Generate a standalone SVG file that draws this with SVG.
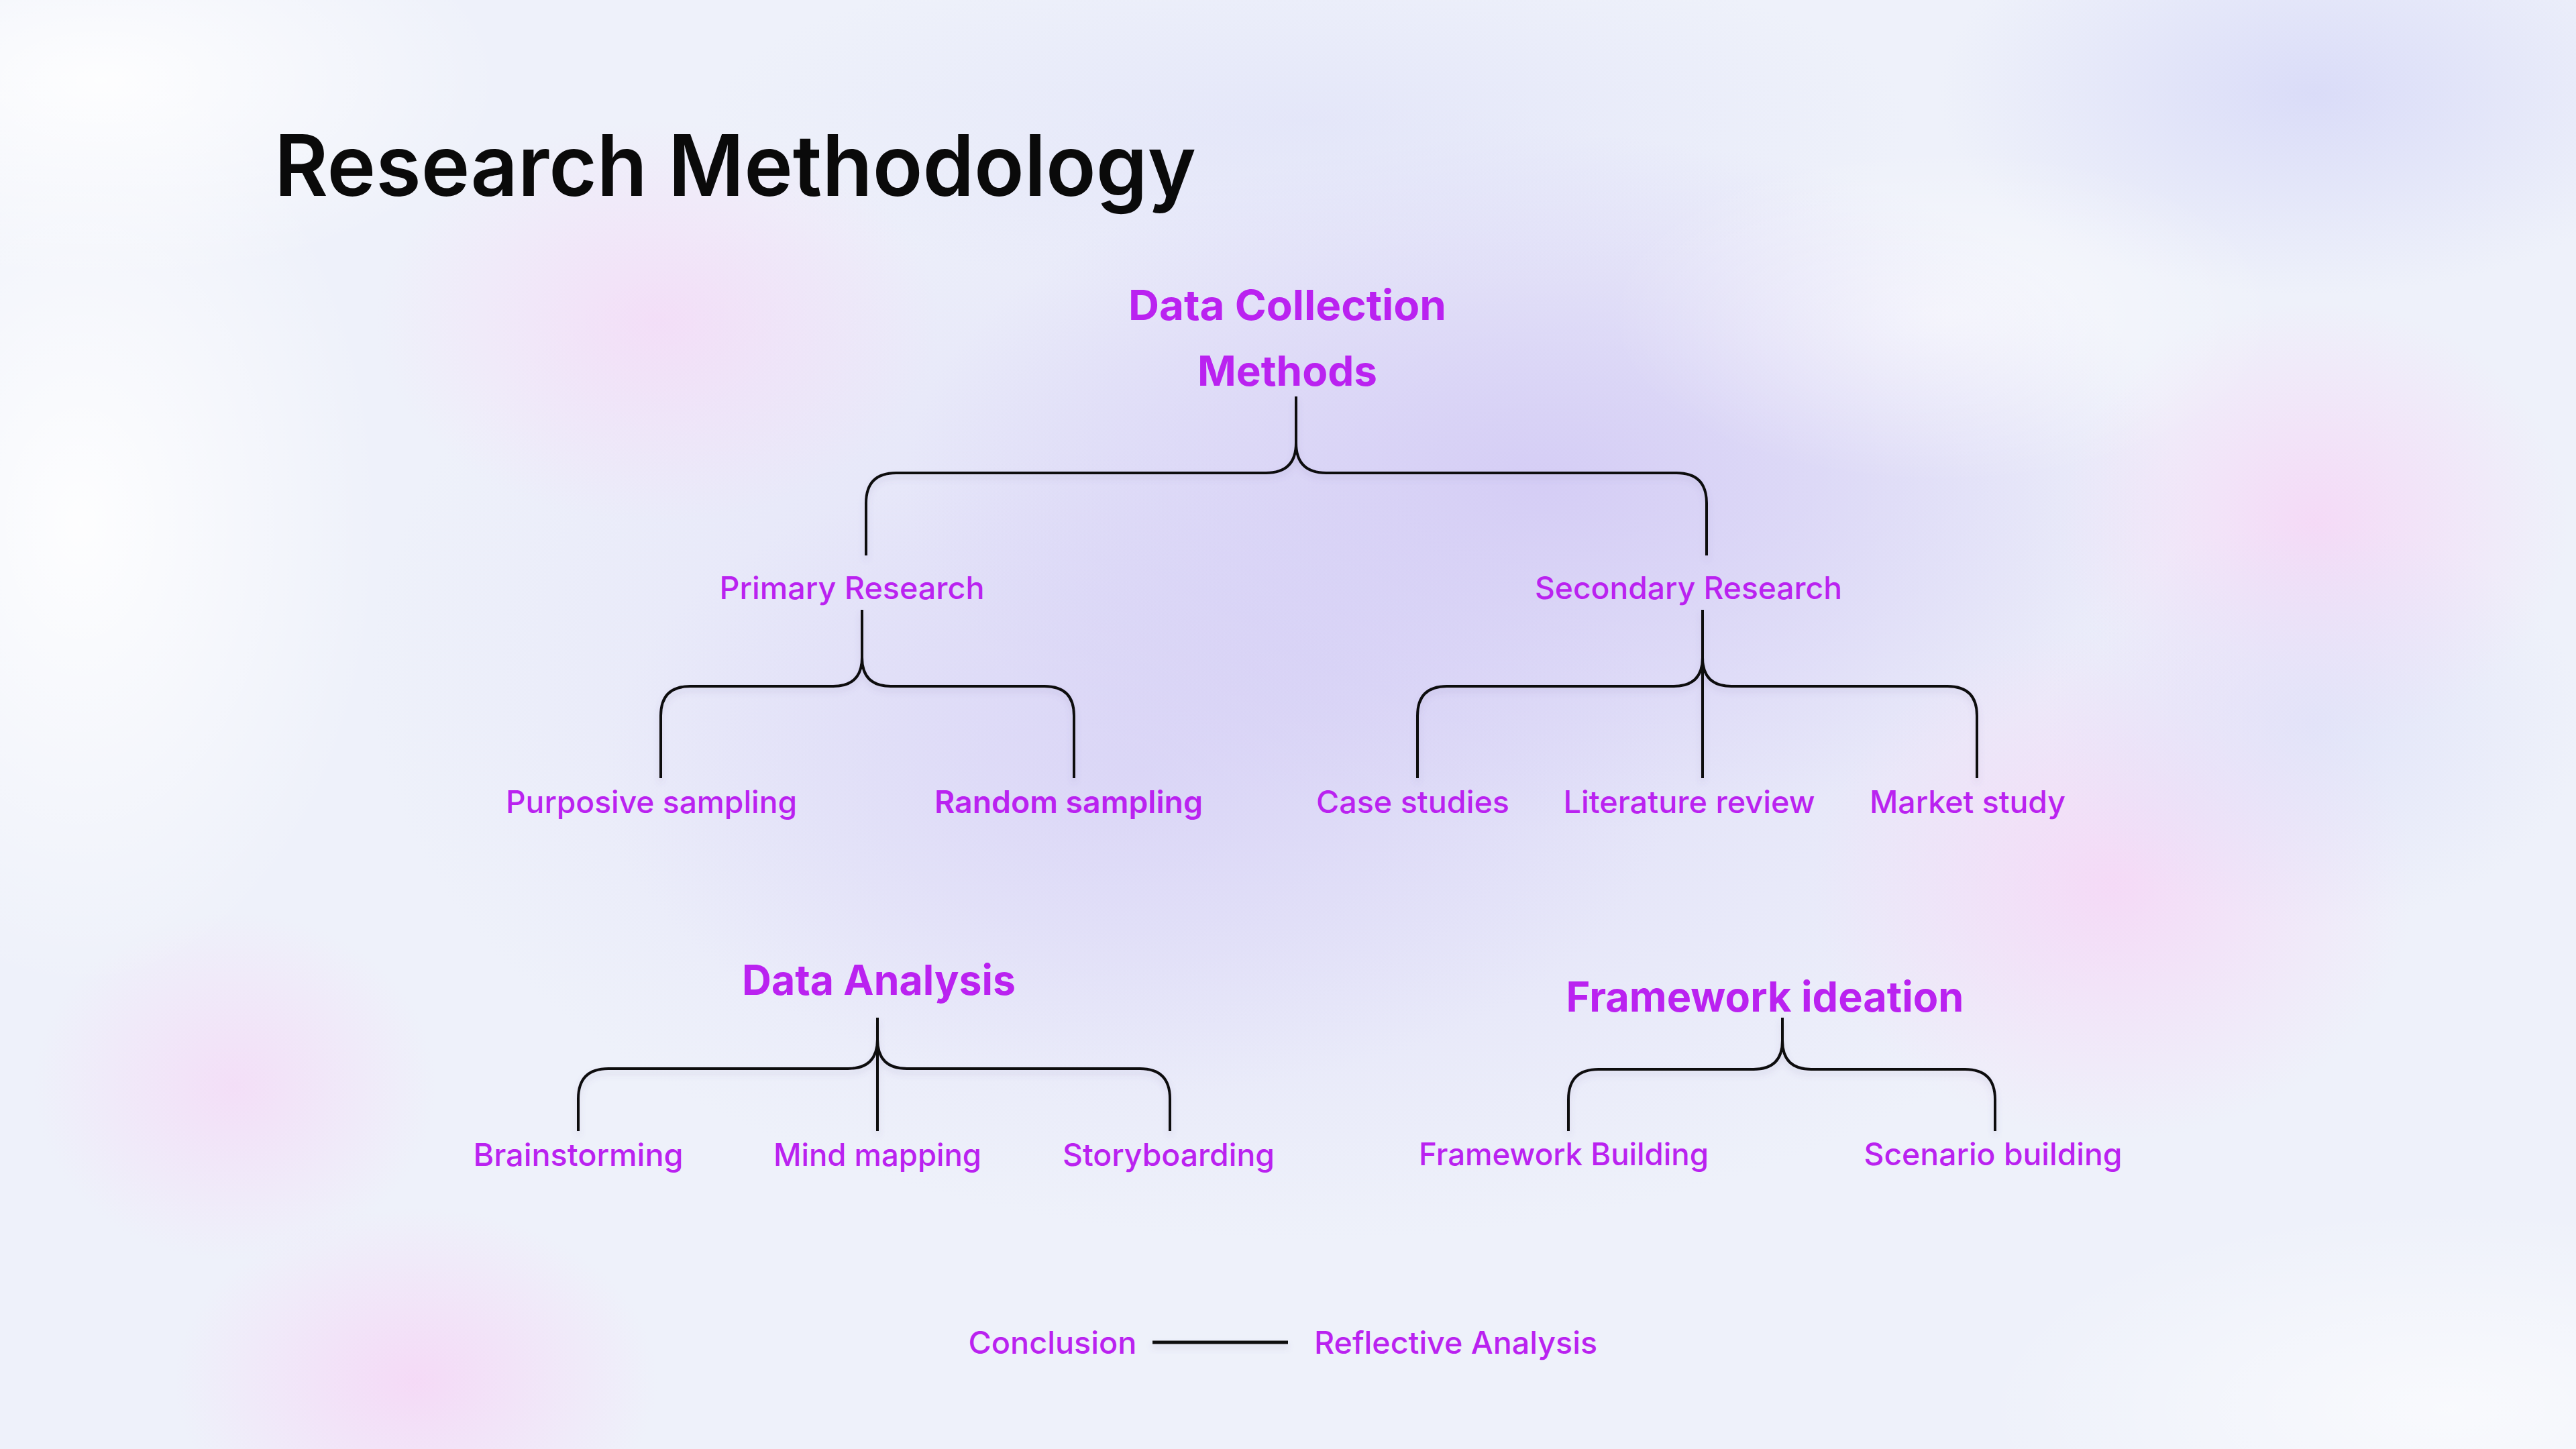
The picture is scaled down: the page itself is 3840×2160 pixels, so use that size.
<svg xmlns="http://www.w3.org/2000/svg" width="3840" height="2160" viewBox="0 0 3840 2160">
<defs>
<radialGradient id="gLav"><stop offset="0" stop-color="#D4CCF5" stop-opacity="0.95"/><stop offset="1" stop-color="#D4CCF5" stop-opacity="0"/></radialGradient>
<radialGradient id="gLav2"><stop offset="0" stop-color="#DCD9F7" stop-opacity="0.9"/><stop offset="1" stop-color="#DCD9F7" stop-opacity="0"/></radialGradient>
<radialGradient id="gPink"><stop offset="0" stop-color="#F6D6F6" stop-opacity="0.85"/><stop offset="1" stop-color="#F6D6F6" stop-opacity="0"/></radialGradient>
<radialGradient id="gBlue"><stop offset="0" stop-color="#D9DBF8" stop-opacity="0.95"/><stop offset="1" stop-color="#D9DBF8" stop-opacity="0"/></radialGradient>
<radialGradient id="gWhite"><stop offset="0" stop-color="#FFFFFF" stop-opacity="0.9"/><stop offset="1" stop-color="#FFFFFF" stop-opacity="0"/></radialGradient>
<filter id="sh" x="-5%" y="-20%" width="110%" height="160%"><feDropShadow dx="0" dy="6" stdDeviation="5" flood-color="#6a5a9a" flood-opacity="0.18"/></filter>
</defs>
<style>
.t{font-family:Inter,"Noto Sans","Liberation Sans",sans-serif;fill:#BA22F0;text-anchor:middle}
.h{font-size:62px;font-weight:700}
.l{font-size:46px;font-weight:500}
.ls{font-size:46px;font-weight:600}
.ttl{font-family:Inter,"Noto Sans","Liberation Sans",sans-serif;font-size:126px;font-weight:600;fill:#0A0A0A}
.c{fill:none;stroke:#111111;stroke-width:4;stroke-linejoin:round}
</style>
<g id="background">
<rect width="3840" height="2160" fill="#EEF1FA"/>
<ellipse cx="1950" cy="1000" rx="1400" ry="850" fill="url(#gLav2)"/>
<ellipse cx="2300" cy="720" rx="950" ry="520" fill="url(#gLav)"/>
<ellipse cx="1700" cy="1150" rx="800" ry="480" fill="url(#gLav)" opacity="0.55"/>
<ellipse cx="1950" cy="180" rx="900" ry="260" fill="url(#gBlue)" opacity="0.5"/>
<ellipse cx="980" cy="480" rx="420" ry="300" fill="url(#gPink)" opacity="0.8"/>
<ellipse cx="3450" cy="780" rx="380" ry="330" fill="url(#gPink)"/>
<ellipse cx="3150" cy="1320" rx="450" ry="380" fill="url(#gPink)"/>
<ellipse cx="350" cy="1620" rx="300" ry="260" fill="url(#gPink)" opacity="0.8"/>
<ellipse cx="620" cy="2060" rx="360" ry="260" fill="url(#gPink)"/>
<ellipse cx="3450" cy="140" rx="560" ry="300" fill="url(#gBlue)"/>
<ellipse cx="3450" cy="1080" rx="400" ry="300" fill="url(#gBlue)" opacity="0.6"/>
<ellipse cx="120" cy="780" rx="450" ry="700" fill="url(#gWhite)"/>
<ellipse cx="150" cy="120" rx="600" ry="300" fill="url(#gWhite)"/>
<ellipse cx="3650" cy="2100" rx="700" ry="300" fill="url(#gWhite)" opacity="0.7"/>
<ellipse cx="2900" cy="470" rx="500" ry="250" fill="url(#gWhite)" opacity="0.6"/>
</g>
<g id="title"><text class="ttl" x="409" y="292" textLength="1374" lengthAdjust="spacingAndGlyphs">Research Methodology</text></g>
<g id="connectors" filter="url(#sh)">
<path class="c" d="M1291,828 V750 Q1291,705 1336,705 H1887 Q1932,705 1932,660 Q1932,705 1977,705 H2499 Q2544,705 2544,750 V828 M1932,660 V591"/>
<path class="c" d="M985,1160 V1067 Q985,1023 1029,1023 H1242 Q1285,1023 1285,980 Q1285,1023 1328,1023 H1557 Q1601,1023 1601,1067 V1160 M1285,980 V909"/>
<path class="c" d="M2113,1160 V1067 Q2113,1023 2157,1023 H2495 Q2538,1023 2538,980 Q2538,1023 2581,1023 H2903 Q2947,1023 2947,1067 V1160 M2538,909 V1160"/>
<path class="c" d="M862,1686 V1638 Q862,1593 907,1593 H1264 Q1308,1593 1308,1549 Q1308,1593 1352,1593 H1699 Q1744,1593 1744,1638 V1686 M1308,1517 V1686"/>
<path class="c" d="M2338,1686 V1639 Q2338,1594 2383,1594 H2614 Q2657,1594 2657,1551 Q2657,1594 2700,1594 H2929 Q2974,1594 2974,1639 V1686 M2657,1517 V1551"/>
<path class="c" d="M1718,2001 H1920" style="stroke-width:5"/>
</g>
<g id="n-data-collection"><text class="t h" x="1919" y="477" textLength="474" lengthAdjust="spacingAndGlyphs">Data Collection</text><text class="t h" x="1919" y="575" textLength="268" lengthAdjust="spacingAndGlyphs">Methods</text></g>
<g id="n-primary"><text class="t l" x="1270" y="893" textLength="395" lengthAdjust="spacingAndGlyphs">Primary Research</text></g>
<g id="n-secondary"><text class="t l" x="2517" y="893" textLength="458" lengthAdjust="spacingAndGlyphs">Secondary Research</text></g>
<g id="n-purposive"><text class="t l" x="971" y="1212" textLength="434" lengthAdjust="spacingAndGlyphs">Purposive sampling</text></g>
<g id="n-random"><text class="t ls" x="1593" y="1212" textLength="400" lengthAdjust="spacingAndGlyphs">Random sampling</text></g>
<g id="n-case"><text class="t l" x="2106" y="1212" textLength="288" lengthAdjust="spacingAndGlyphs">Case studies</text></g>
<g id="n-literature"><text class="t l" x="2518" y="1212" textLength="375" lengthAdjust="spacingAndGlyphs">Literature review</text></g>
<g id="n-market"><text class="t l" x="2933" y="1212" textLength="292" lengthAdjust="spacingAndGlyphs">Market study</text></g>
<g id="n-data-analysis"><text class="t h" x="1310" y="1483" textLength="408" lengthAdjust="spacingAndGlyphs">Data Analysis</text></g>
<g id="n-framework-ideation"><text class="t h" x="2631" y="1508" textLength="593" lengthAdjust="spacingAndGlyphs">Framework ideation</text></g>
<g id="n-brainstorming"><text class="t l" x="862" y="1738" textLength="313" lengthAdjust="spacingAndGlyphs">Brainstorming</text></g>
<g id="n-mind-mapping"><text class="t l" x="1308" y="1738" textLength="310" lengthAdjust="spacingAndGlyphs">Mind mapping</text></g>
<g id="n-storyboarding"><text class="t l" x="1742" y="1738" textLength="316" lengthAdjust="spacingAndGlyphs">Storyboarding</text></g>
<g id="n-framework-building"><text class="t l" x="2331" y="1737" textLength="432" lengthAdjust="spacingAndGlyphs">Framework Building</text></g>
<g id="n-scenario"><text class="t l" x="2971" y="1737" textLength="385" lengthAdjust="spacingAndGlyphs">Scenario building</text></g>
<g id="n-conclusion"><text class="t l" x="1569" y="2018" textLength="251" lengthAdjust="spacingAndGlyphs">Conclusion</text></g>
<g id="n-reflective"><text class="t l" x="2170" y="2018" textLength="422" lengthAdjust="spacingAndGlyphs">Reflective Analysis</text></g>
</svg>
